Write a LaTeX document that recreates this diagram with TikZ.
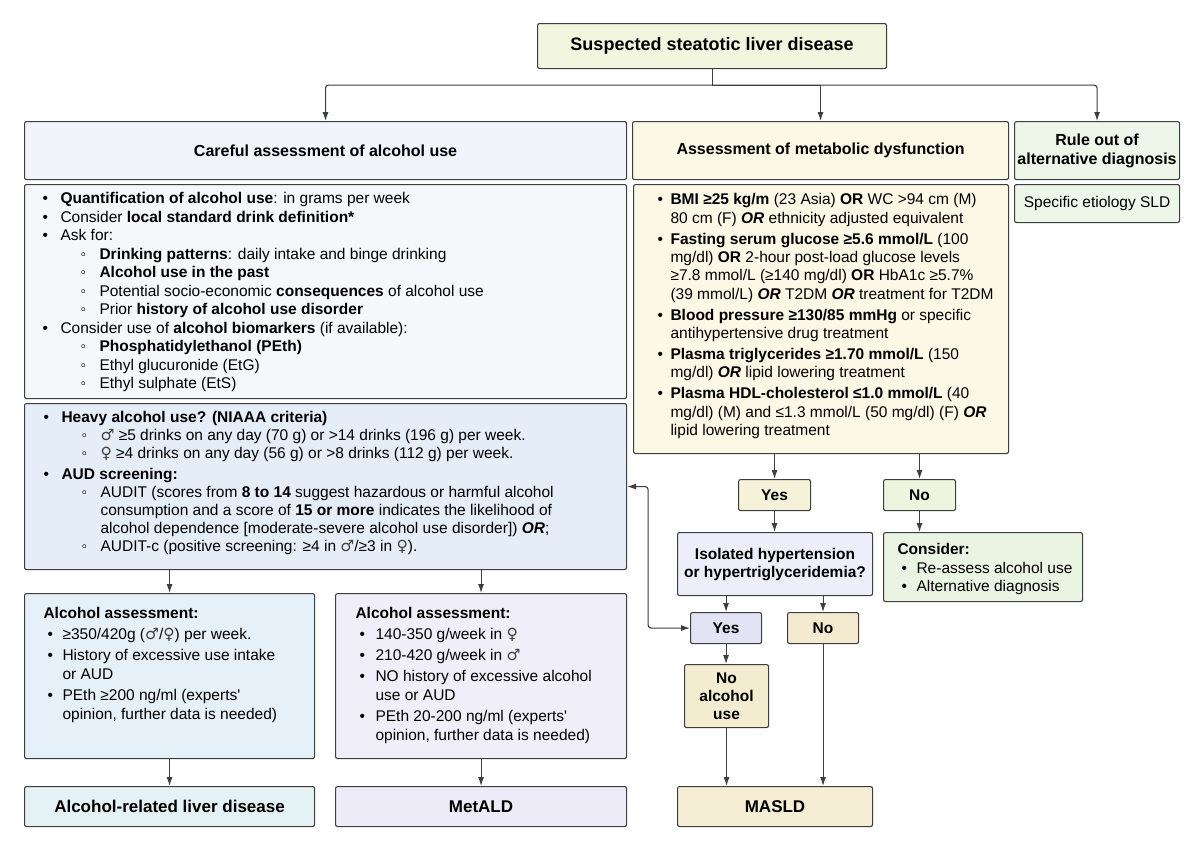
\documentclass[tikz,border=0pt]{standalone}
\usepackage{fontspec}
\setmainfont{Liberation Sans}
\newfontfamily\symfont{DejaVu Sans}
\usetikzlibrary{arrows.meta}

\definecolor{edge}{HTML}{3E3E3E}
\definecolor{topfill}{HTML}{F3F6DF}
\definecolor{carefill}{HTML}{F3F4FB}
\definecolor{listfill}{HTML}{F6F7FA}
\definecolor{heavyfill}{HTML}{E5EDF8}
\definecolor{metafill}{HTML}{FBF8E5}
\definecolor{rulefill}{HTML}{EDF6E8}
\definecolor{yesfill}{HTML}{F6F1D9}
\definecolor{nofill}{HTML}{EEF4DE}
\definecolor{isofill}{HTML}{EEEEFA}
\definecolor{consfill}{HTML}{EAF4E3}
\definecolor{yestwofill}{HTML}{E3E3F5}
\definecolor{notwofill}{HTML}{F3EACF}
\definecolor{noalcfill}{HTML}{F4ECD0}
\definecolor{masldfill}{HTML}{F5EDD4}
\definecolor{alcfill}{HTML}{E6F0F8}
\definecolor{metaldfill}{HTML}{F0EEF9}
\definecolor{aldfill}{HTML}{E4F1F5}
\definecolor{metaldresfill}{HTML}{EDEBF7}

% sex symbols
\newcommand{\mgl}{{\symfont\color{black!75}♂}}
\newcommand{\fgl}{{\symfont\color{black!75}♀}}

% bullet lists
\newlength{\bulx}
\newlength{\bulgap}
\newcommand{\itm}[1]{\par\noindent\hangindent=\dimexpr\bulx+\bulgap\relax\hangafter=1\hspace*{\bulx}\makebox[\bulgap][l]{•}#1}
\newcommand{\sitm}[1]{\par\noindent\hangindent=57pt\hangafter=1\hspace*{38pt}\makebox[19pt][l]{◦}#1}
\newcommand{\boxtext}[4]{\hspace*{#1}\parbox[c][#3][t]{#2}{\rightskip=0pt plus 1fil #4}}

\begin{document}
\begin{tikzpicture}[x=1pt,y=-1pt,>={Latex[length=9pt,width=6pt]},
  box/.style={draw=edge, line width=1.1pt, rounded corners=2pt, anchor=north west,
    inner sep=0pt, font=\fontsize{15.5}{18.5}\selectfont},
  head/.style={box, align=center, font=\bfseries\fontsize{16}{19}\selectfont},
  small/.style={box, align=center, font=\bfseries\fontsize{15.5}{18}\selectfont},
  result/.style={box, align=center, font=\bfseries\fontsize{17}{20}\selectfont},
  link/.style={->, draw=edge, line width=1.1pt}]
  \useasboundingbox (0,0) rectangle (1200,844);

  % Top
  \node[box, align=center, font=\bfseries\fontsize{18}{21}\selectfont, fill=topfill,
    minimum width=349pt, minimum height=45pt] (suspect) at (537,23) {Suspected steatotic liver disease};
  \coordinate (split) at ([yshift=-16pt]suspect.south);

  % Three branches
  \node[head, fill=carefill, minimum width=602pt, minimum height=58pt] (careful) at (24,121) {Careful assessment of alcohol use};
  \node[head, fill=metafill, minimum width=376pt, minimum height=58pt] (metab) at (632,121) {Assessment of metabolic dysfunction};
  \node[head, fill=rulefill, minimum width=165pt, minimum height=58pt] (rule) at (1014,121) {Rule out of\\alternative diagnosis};

  % Alcohol column
  \node[box, fill=listfill, minimum width=602pt, minimum height=214pt] (alcq) at (24,184)
    {\boxtext{18pt}{584pt}{198pt}{\setlength{\bulx}{0pt}\setlength{\bulgap}{18pt}%
      \itm{\textbf{Quantification of alcohol use}: in grams per week}
      \itm{Consider \textbf{local standard drink definition*}}
      \itm{Ask for:}
      \sitm{\textbf{Drinking patterns}: daily intake and binge drinking}
      \sitm{\textbf{Alcohol use in the past}}
      \sitm{Potential socio-economic \textbf{consequences} of alcohol use}
      \sitm{Prior \textbf{history of alcohol use disorder}}
      \itm{Consider use of \textbf{alcohol biomarkers} (if available):}
      \sitm{\textbf{Phosphatidylethanol (PEth)}}
      \sitm{Ethyl glucuronide (EtG)}
      \sitm{Ethyl sulphate (EtS)}}};

  \node[box, fill=heavyfill, minimum width=602pt, minimum height=166pt] (heavy) at (24,403)
    {\boxtext{19pt}{583pt}{150pt}{\fontsize{15.5}{18}\selectfont\setlength{\bulx}{0pt}\setlength{\bulgap}{18pt}%
      \itm{\textbf{Heavy alcohol use? (NIAAA criteria)}}
      \sitm{\mgl{} ≥5 drinks on any day (70 g) or >14 drinks (196 g) per week.}
      \sitm{\fgl{} ≥4 drinks on any day (56 g) or >8 drinks (112 g) per week.}
      \par\vspace{3pt}
      \itm{\textbf{AUD screening:}}
      \sitm{AUDIT (scores from \textbf{8 to 14} suggest hazardous or harmful alcohol\\
        consumption and a score of \textbf{15 or more} indicates the likelihood of\\
        alcohol dependence [moderate-severe alcohol use disorder]) \textbf{\textit{OR}};}
      \sitm{AUDIT-c (positive screening: ≥4 in \mgl/≥3 in \fgl).}}};

  \node[box, fill=alcfill, minimum width=290pt, minimum height=165pt] (alc) at (24,593)
    {\boxtext{19pt}{271pt}{137pt}{\fontsize{15.5}{18.7}\selectfont\setlength{\parskip}{2.3pt}%
      \setlength{\bulx}{4pt}\setlength{\bulgap}{15pt}%
      \textbf{Alcohol assessment:}
      \itm{≥350/420g (\mgl/\fgl) per week.}
      \itm{History of excessive use intake\\ or AUD}
      \itm{PEth ≥200 ng/ml (experts\textquotesingle\\ opinion, further data is needed)}}};

  \node[box, fill=metaldfill, minimum width=291pt, minimum height=165pt] (metald) at (335,593)
    {\boxtext{20pt}{271pt}{137pt}{\fontsize{15.5}{18.7}\selectfont\setlength{\parskip}{2.3pt}%
      \setlength{\bulx}{4pt}\setlength{\bulgap}{16pt}%
      \textbf{Alcohol assessment:}
      \itm{140-350 g/week in \fgl}
      \itm{210-420 g/week in \mgl}
      \itm{NO history of excessive alcohol\\ use or AUD}
      \itm{PEth 20-200 ng/ml (experts\textquotesingle\\ opinion, further data is needed)}}};

  \node[result, fill=aldfill, minimum width=290pt, minimum height=40pt] (ald) at (24,786) {Alcohol-related liver disease};
  \node[result, fill=metaldresfill, minimum width=291pt, minimum height=40pt] (metaldres) at (335,786) {MetALD};

  % Metabolic column
  \node[box, fill=metafill, minimum width=375pt, minimum height=269pt] (metalist) at (633,184)
    {\boxtext{24pt}{351pt}{251pt}{\fontsize{15.5}{18.3}\selectfont\setlength{\parskip}{2.8pt}%
      \setlength{\bulx}{0pt}\setlength{\bulgap}{13pt}%
      \itm{\textbf{BMI ≥25 kg/m} (23 Asia) \textbf{OR} WC >94 cm (M)\\
        80 cm (F) \textbf{\textit{OR}} ethnicity adjusted equivalent}
      \itm{\textbf{Fasting serum glucose ≥5.6 mmol/L} (100\\
        mg/dl) \textbf{OR} 2-hour post-load glucose levels\\
        ≥7.8 mmol/L (≥140 mg/dl) \textbf{OR} HbA1c ≥5.7\%\\
        (39 mmol/L) \textbf{\textit{OR}} T2DM \textbf{\textit{OR}} treatment for T2DM}
      \itm{\textbf{Blood pressure ≥130/85 mmHg} or specific\\
        antihypertensive drug treatment}
      \itm{\textbf{Plasma triglycerides ≥1.70 mmol/L} (150\\
        mg/dl) \textbf{\textit{OR}} lipid lowering treatment}
      \itm{\textbf{Plasma HDL-cholesterol ≤1.0 mmol/L} (40\\
        mg/dl) (M) and ≤1.3 mmol/L (50 mg/dl) (F) \textbf{\textit{OR}}\\
        lipid lowering treatment}}};

  \node[small, fill=yesfill, minimum width=72pt, minimum height=31pt] (yes) at (738,479) {Yes};
  \node[small, fill=nofill, minimum width=72pt, minimum height=31pt] (no) at (883,479) {No};
  \node[small, fill=isofill, minimum width=195pt, minimum height=63pt] (iso) at (677,532) {Isolated hypertension\\or hypertriglyceridemia?};
  \node[box, fill=consfill, minimum width=199pt, minimum height=69pt] (consider) at (883,532)
    {\boxtext{14pt}{185pt}{47pt}{\setlength{\bulx}{4pt}\setlength{\bulgap}{15pt}%
      \textbf{Consider:}
      \itm{Re-assess alcohol use}
      \itm{Alternative diagnosis}}};
  \node[small, fill=yestwofill, minimum width=71pt, minimum height=31pt] (yestwo) at (690,612) {Yes};
  \node[small, fill=notwofill, minimum width=71pt, minimum height=31pt] (notwo) at (787,612) {No};
  \node[small, fill=noalcfill, minimum width=84pt, minimum height=63pt] (noalc) at (684,664) {No\\alcohol\\use};
  \node[result, fill=masldfill, minimum width=195pt, minimum height=40pt] (masld) at (677,786) {MASLD};

  % Rule out column
  \node[box, fill=rulefill, minimum width=165pt, minimum height=38pt] (specific) at (1014,184) {Specific etiology SLD};

  % Lines from the top
  \draw[edge, line width=1.1pt] (suspect.south) -- (split);
  \draw[link, rounded corners=3pt] (split) -| (careful.north);
  \draw[link] (split) -| (metab.north);
  \draw[link, rounded corners=3pt] (split) -| (rule.north);

  % Alcohol side
  \draw[link] (heavy.south -| alc.north) -- (alc.north);
  \draw[link] (heavy.south -| metald.north) -- (metald.north);
  \draw[link] (alc.south) -- (ald.north);
  \draw[link] (metald.south) -- (metaldres.north);

  % Metabolic side
  \draw[link] (metalist.south -| yes.north) -- (yes.north);
  \draw[link] (metalist.south -| no.north) -- (no.north);
  \draw[link] (yes.south) -- (yes.south |- iso.north);
  \draw[link] (no.south) -- (no.south |- consider.north);
  \draw[link] (iso.south -| yestwo.north) -- (yestwo.north);
  \draw[link] (iso.south -| notwo.north) -- (notwo.north);
  \draw[link] (yestwo.south) -- (yestwo.south |- noalc.north);
  \draw[link] (noalc.south) -- (noalc.south |- masld.north);
  \draw[link] (notwo.south) -- (notwo.south |- masld.north);

  % Back to alcohol screening
  \draw[link, <->, rounded corners=3pt] (heavy.east) -- ++(21,0) |- (yestwo.west);

\end{tikzpicture}
\end{document}
